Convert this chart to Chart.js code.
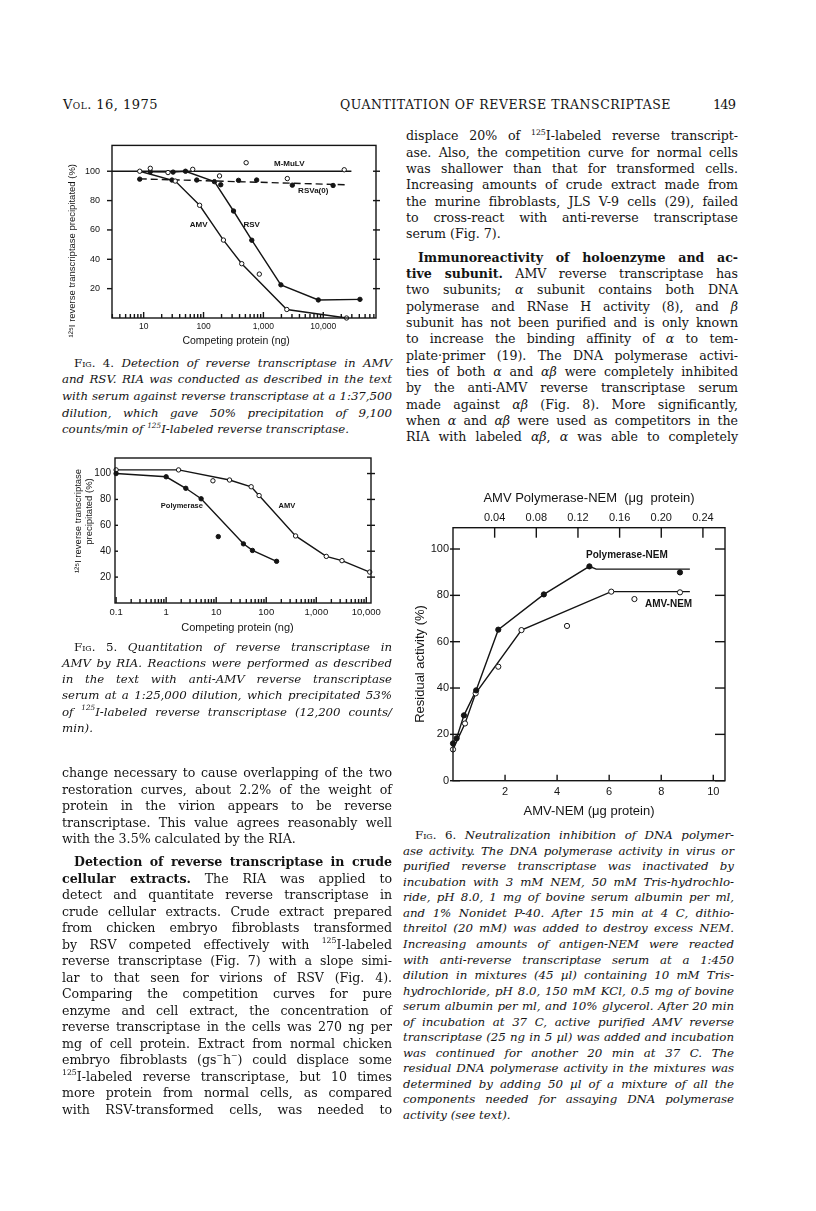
<!DOCTYPE html>
<html>
<head>
<meta charset="utf-8">
<script src="https://cdn.jsdelivr.net/npm/chart.js@4.4.1/dist/chart.umd.min.js"></script>
<style>
    html, body { margin: 0; padding: 0; background: #fff; }
    body { width: 816px; height: 1211px; position: relative; overflow: hidden; color: #141414; }
    canvas { position: absolute; }
    .ln { position: absolute; box-sizing: border-box; font-family: 'DejaVu Serif', serif;
          text-align: justify; text-align-last: justify; }
    .ln.end { text-align-last: left; }
    .cap { font-style: italic; }
    .up { font-style: normal; font-variant: small-caps; }
    sup { font-size: 0.62em; line-height: 0; position: relative; top: -0.1em; vertical-align: super; }
</style>
</head>
<body>
<canvas id="fig4" width="330" height="222" style="left:60px;top:128px"></canvas>
<canvas id="fig5" width="330" height="200" style="left:60px;top:448px"></canvas>
<canvas id="fig6" width="340" height="335" style="left:400px;top:488px"></canvas>

<script>
// ---- Fig. 4: detection of reverse transcriptase in AMV and RSV ----
const fig4XTicks = [10, 100, 1000, 10000];
const fig4YTicks = [20, 40, 60, 80, 100];
const fig4AmvNg = [8.6, 33.7, 86, 215, 435, 2460, 24500];
const fig4AmvPct = [100, 93.3, 76.8, 53.1, 37.0, 5.8, 0];
const fig4AmvOffNg = [855];
const fig4AmvOffPct = [29.9];
const fig4RsvNg = [12.9, 31, 50, 152, 317, 640, 1960, 8270, 41000];
const fig4RsvPct = [99.6, 99.4, 100, 92.9, 72.9, 53.0, 22.6, 12.3, 12.7];
const fig4MulvNg = [12.9, 25.5, 66, 185, 515, 2510, 22400];
const fig4MulvPct = [102, 99.1, 101.3, 96.8, 105.8, 95.0, 101];
const fig4MulvLineNg = [2.96, 29500];
const fig4MulvLinePct = [100, 100];
const fig4RsvaNg = [8.6, 29.7, 77, 194, 384, 772, 3040, 14600];
const fig4RsvaPct = [94.6, 94.0, 94.0, 90.8, 93.8, 94.0, 90.5, 90.3];
const fig4RsvaLineNg = [8.6, 23000];
const fig4RsvaLinePct = [94.8, 90.8];

// ---- Fig. 5: quantitation of reverse transcriptase in AMV ----
const fig5XTicks = [0.1, 1, 10, 100, 1000, 10000];
const fig5YTicks = [20, 40, 60, 80, 100];
const fig5PolNg = [0.1, 1, 2.47, 5, 35, 53, 161];
const fig5PolPct = [100, 97.5, 88.6, 80.5, 45.7, 40.6, 32.2];
const fig5PolOffNg = [11];
const fig5PolOffPct = [51.3];
const fig5AmvNg = [0.1, 1.77, 18.5, 50, 72, 386, 1585, 3260, 11700];
const fig5AmvPct = [102.8, 102.8, 95, 89.8, 83, 51.8, 36, 32.7, 23.9];
const fig5AmvOffNg = [8.6];
const fig5AmvOffPct = [94.4];

// ---- Fig. 6: neutralization inhibition ----
const fig6XTicks = [2, 4, 6, 8, 10];
const fig6TopTicks = [0.04, 0.08, 0.12, 0.16, 0.20, 0.24];
const fig6YTicks = [0, 20, 40, 60, 80, 100];
const fig6PolX = [0, 0.14, 0.42, 0.89, 1.74, 3.49, 5.24, 8.72];
const fig6PolY = [16.1, 18.3, 28.2, 39, 65.2, 80.4, 92.5, 89.9];
const fig6PolLineX = [0, 0.14, 0.42, 0.89, 1.74, 3.49, 5.24, 5.5, 9.1];
const fig6PolLineY = [16.1, 18.3, 28.2, 39, 65.2, 80.4, 92.5, 91.3, 91.3];
const fig6AmvX = [0, 0.46, 0.87, 1.74, 2.63, 4.38, 6.08, 6.97, 8.72];
const fig6AmvY = [13.5, 24.7, 37.7, 49.2, 65, 66.8, 81.6, 78.4, 81.3];
const fig6AmvLineX = [0, 0.46, 0.87, 2.63, 6.08, 9.1];
const fig6AmvLineY = [13.5, 24.7, 37.7, 65, 81.6, 81.6];

const INK = '#141414';
const AXIS_FONT = "'Liberation Sans', Arial, sans-serif";

function pts(xs, ys) {
    return xs.map((x, i) => ({x: x, y: ys[i]}));
}

function marks(xs, ys, open, r) {
    return {
        data: pts(xs, ys), showLine: false, pointRadius: r || 2.2,
        pointBackgroundColor: open ? '#fff' : INK, pointBorderColor: INK,
        pointBorderWidth: 1, order: 1, clip: false
    };
}

function curve(xs, ys, dash) {
    return {
        data: pts(xs, ys), showLine: true, pointRadius: 0, borderColor: INK,
        borderWidth: 1.4, borderDash: dash || [], tension: 0, order: 2, clip: false
    };
}

function font(size, weight) {
    return {family: AXIS_FONT, size: size, weight: weight || 'normal', lineHeight: 1.2};
}

function fixedTicks(values) {
    return s => { s.ticks = values.map(v => ({value: v})); };
}

function fmtNum(v) {
    if (v < 1) return String(v);
    return Number(v).toLocaleString('en-US');
}

// frame, inward/outward tick marks and curve labels
const frameTicks = {
    id: 'frameTicks',
    afterDatasetsDraw(chart, args, o) {
        const {ctx, chartArea: a, scales} = chart;
        const seg = (x1, y1, x2, y2) => {
            ctx.beginPath(); ctx.moveTo(x1, y1); ctx.lineTo(x2, y2); ctx.stroke();
        };
        ctx.save();
        ctx.strokeStyle = INK;
        ctx.lineWidth = 1.4;
        ctx.strokeRect(a.left, a.top, a.right - a.left, a.bottom - a.top);

        const ys = scales.y;
        ys.ticks.forEach(t => {
            const py = ys.getPixelForValue(t.value);
            if (o.left) seg(a.left - o.left[0], py, a.left + o.left[1], py);
            if (o.right) seg(a.right - o.right[0], py, a.right + o.right[1], py);
        });

        const xs = scales.x;
        if (o.logMinor) {
            const d0 = Math.floor(Math.log10(xs.min));
            const d1 = Math.ceil(Math.log10(xs.max));
            for (let d = d0; d <= d1; d++) {
                for (let k = 1; k <= 9; k++) {
                    const v = k * Math.pow(10, d);
                    if (v < xs.min || v > xs.max) continue;
                    const px = xs.getPixelForValue(v);
                    seg(px, a.bottom, px, a.bottom - (k === 1 ? o.logMinor[1] : o.logMinor[0]));
                }
            }
        }
        if (o.bottom) {
            xs.ticks.forEach(t => {
                const px = xs.getPixelForValue(t.value);
                seg(px, a.bottom, px, a.bottom - o.bottom);
            });
        }
        if (o.top && scales.x2) {
            scales.x2.ticks.forEach(t => {
                const px = scales.x2.getPixelForValue(t.value);
                seg(px, a.top, px, a.top + o.top);
            });
        }

        ctx.fillStyle = INK;
        ctx.textAlign = 'center';
        ctx.textBaseline = 'middle';
        (o.labels || []).forEach(l => {
            ctx.font = l.font;
            ctx.fillText(l.text, xs.getPixelForValue(l.x), ys.getPixelForValue(l.y));
        });
        ctx.restore();
    }
};

function baseOptions(pad, scales, frame) {
    return {
        responsive: false,
        animation: false,
        events: [],
        layout: {padding: pad},
        plugins: {legend: {display: false}, tooltip: {enabled: false}, frameTicks: frame},
        scales: scales
    };
}

const noGrid = {display: false, drawTicks: false};
const noBorder = {display: false};
const EN = '\u2002';

// Fig. 4
new Chart(document.getElementById('fig4'), {
    type: 'scatter',
    data: {datasets: [
        marks(fig4AmvNg, fig4AmvPct, true),
        marks(fig4AmvOffNg, fig4AmvOffPct, true),
        marks(fig4MulvNg, fig4MulvPct, true),
        marks(fig4RsvNg, fig4RsvPct, false),
        marks(fig4RsvaNg, fig4RsvaPct, false),
        curve(fig4AmvNg, fig4AmvPct),
        curve(fig4RsvNg, fig4RsvPct),
        curve(fig4MulvLineNg, fig4MulvLinePct),
        curve(fig4RsvaLineNg, fig4RsvaLinePct, [7, 4])
    ]},
    options: baseOptions({left: 0, top: 7, right: 14, bottom: 0}, {
        x: {
            type: 'logarithmic', min: 2.96, max: 76000,
            afterBuildTicks: fixedTicks(fig4XTicks),
            afterFit: s => { s.height = 32; },
            grid: noGrid, border: noBorder,
            ticks: {autoSkip: false, maxRotation: 0, padding: 3.9, color: INK, font: font(8.5),
                    callback: v => fmtNum(v)},
            title: {display: true, text: 'Competing protein (ng)' + EN + EN + EN, color: INK,
                    font: font(10.5), padding: {top: 0, bottom: 2.7}}
        },
        y: {
            min: 0, max: 117.6,
            afterBuildTicks: fixedTicks(fig4YTicks),
            afterFit: s => { s.width = 52; },
            grid: noGrid, border: noBorder,
            ticks: {padding: 12, color: INK, font: font(9)},
            title: {display: true, text: '\u00b9\u00b2\u2075I reverse transcriptase precipitated (%)' + EN.repeat(8),
                    color: INK, font: font(9.5), padding: {top: 6.3, bottom: 0}}
        }
    }, {
        left: [5, 0], right: [3, 4], logMinor: [4, 6],
        labels: [
            {text: 'M-MuLV', x: 2700, y: 105, font: "bold 8px 'Liberation Sans', Arial"},
            {text: 'RSVa(0)', x: 6800, y: 86.5, font: "bold 8px 'Liberation Sans', Arial"},
            {text: 'AMV', x: 83, y: 63.2, font: "bold 8px 'Liberation Sans', Arial"},
            {text: 'RSV', x: 637, y: 63.2, font: "bold 8px 'Liberation Sans', Arial"}
        ]
    }),
    plugins: [frameTicks]
});

// Fig. 5
new Chart(document.getElementById('fig5'), {
    type: 'scatter',
    data: {datasets: [
        marks(fig5PolNg, fig5PolPct, false),
        marks(fig5PolOffNg, fig5PolOffPct, false),
        marks(fig5AmvNg, fig5AmvPct, true),
        marks(fig5AmvOffNg, fig5AmvOffPct, true),
        curve(fig5PolNg, fig5PolPct),
        curve(fig5AmvNg, fig5AmvPct)
    ]},
    options: baseOptions({left: 0, top: 7, right: 19, bottom: 0}, {
        x: {
            type: 'logarithmic', min: 0.095, max: 12400,
            afterBuildTicks: fixedTicks(fig5XTicks),
            afterFit: s => { s.height = 45; },
            grid: noGrid, border: noBorder,
            ticks: {autoSkip: false, maxRotation: 0, padding: 4, color: INK, font: font(9.5),
                    callback: v => fmtNum(v)},
            title: {display: true, text: 'Competing protein (ng)' + EN + EN, color: INK,
                    font: font(11), padding: {top: 0, bottom: 13.1}}
        },
        y: {
            min: 0, max: 112,
            afterBuildTicks: fixedTicks(fig5YTicks),
            afterFit: s => { s.width = 55; },
            grid: noGrid, border: noBorder,
            ticks: {padding: 4, color: INK, font: font(10)},
            title: {display: true,
                    text: [EN.repeat(4) + '\u00b9\u00b2\u2075I reverse transcriptase', EN.repeat(8) + 'precipitated (%)'],
                    color: INK, font: font(9.5), padding: {top: 12.3, bottom: 0}}
        }
    }, {
        left: [0, 3], right: [4, 4], logMinor: [4, 6],
        labels: [
            {text: 'Polymerase', x: 2.06, y: 74.6, font: "bold 7.5px 'Liberation Sans', Arial"},
            {text: 'AMV', x: 258, y: 74.6, font: "bold 7.5px 'Liberation Sans', Arial"}
        ]
    }),
    plugins: [frameTicks]
});

// Fig. 6
new Chart(document.getElementById('fig6'), {
    type: 'scatter',
    data: {datasets: [
        marks(fig6PolX, fig6PolY, false, 2.6),
        marks(fig6AmvX, fig6AmvY, true, 2.6),
        curve(fig6PolLineX, fig6PolLineY),
        curve(fig6AmvLineX, fig6AmvLineY)
    ]},
    options: baseOptions({left: 0, top: 0, right: 15, bottom: 0}, {
        x: {
            min: 0, max: 10.45,
            afterBuildTicks: fixedTicks(fig6XTicks),
            afterFit: s => { s.height = 42.3; },
            grid: noGrid, border: noBorder,
            ticks: {autoSkip: false, maxRotation: 0, padding: 4.4, color: INK, font: font(11)},
            title: {display: true, text: 'AMV-NEM (\u03bcg protein)', color: INK,
                    font: font(13), padding: {top: 0, bottom: 3.5}}
        },
        x2: {
            type: 'linear', position: 'top', display: true, min: 0, max: 0.2612,
            afterBuildTicks: fixedTicks(fig6TopTicks),
            afterFit: s => { s.height = 39.7; },
            grid: noGrid, border: noBorder,
            ticks: {autoSkip: false, maxRotation: 0, padding: 3.1, color: INK, font: font(11),
                    callback: v => v.toFixed(2)},
            title: {display: true, text: 'AMV Polymerase-NEM  (\u03bcg  protein)', color: INK,
                    font: font(13), padding: {top: 2.2, bottom: 0}}
        },
        y: {
            min: 0, max: 109.2,
            afterBuildTicks: fixedTicks(fig6YTicks),
            afterFit: s => { s.width = 53; },
            grid: noGrid, border: noBorder,
            ticks: {padding: 4, color: INK, font: font(11)},
            title: {display: true, text: 'Residual activity (%)' + EN.repeat(3), color: INK,
                    font: font(13), padding: {top: 12.9, bottom: 0}}
        }
    }, {
        left: [3, 7], right: [10, 0], bottom: 6, top: 10,
        labels: [
            {text: 'Polymerase-NEM', x: 6.68, y: 97.1, font: "bold 10px 'Liberation Sans', Arial"},
            {text: 'AMV-NEM', x: 8.28, y: 76.3, font: "bold 10px 'Liberation Sans', Arial"}
        ]
    }),
    plugins: [frameTicks]
});

// ---- page text ----
const L = t => ({t: t});
const I = t => ({t: t, indent: true});
const E = t => ({t: t, end: true});
const G = (t, gap) => ({t: t, indent: true, gap: gap});
const SUP = '<sup>125</sup>I';

const textBlocks = [
    {x: 63, w: 95, y: 109, pitch: 16, size: 13, fit: true, lines: [E('<span class="up">Vol.</span> 16, 1975')]},
    {x: 340, w: 331, y: 109, pitch: 16, size: 12.5, fit: true, lines: [E('QUANTITATION OF REVERSE TRANSCRIPTASE')]},
    {x: 713, w: 22, y: 109, pitch: 16, size: 13, fit: true, lines: [E('149')]},

    {x: 62, w: 330, y: 367, pitch: 16.7, size: 11.8, cls: 'cap', ind: 12, lines: [
        I('<span class="up">Fig. 4.</span> Detection of reverse transcriptase in AMV'),
        L('and RSV. RIA was conducted as described in the text'),
        L('with serum against reverse transcriptase at a 1:37,500'),
        L('dilution, which gave 50% precipitation of 9,100'),
        E('counts/min of ' + SUP + '-labeled reverse transcriptase.')
    ]},
    {x: 62, w: 330, y: 651, pitch: 16.2, size: 11.8, cls: 'cap', ind: 12, lines: [
        I('<span class="up">Fig. 5.</span> Quantitation of reverse transcriptase in'),
        L('AMV by RIA. Reactions were performed as described'),
        L('in the text with anti-AMV reverse transcriptase'),
        L('serum at a 1:25,000 dilution, which precipitated 53%'),
        L('of ' + SUP + '-labeled reverse transcriptase (12,200 counts/'),
        E('min).')
    ]},
    {x: 62, w: 330, y: 778, pitch: 16.5, size: 12.6, ind: 12, lines: [
        L('change necessary to cause overlapping of the two'),
        L('restoration curves, about 2.2% of the weight of'),
        L('protein in the virion appears to be reverse'),
        L('transcriptase. This value agrees reasonably well'),
        E('with the 3.5% calculated by the RIA.'),
        G('<b>Detection of reverse transcriptase in crude</b>', 6.5),
        L('<b>cellular extracts.</b> The RIA was applied to'),
        L('detect and quantitate reverse transcriptase in'),
        L('crude cellular extracts. Crude extract prepared'),
        L('from chicken embryo fibroblasts transformed'),
        L('by RSV competed effectively with ' + SUP + '-labeled'),
        L('reverse transcriptase (Fig. 7) with a slope simi-'),
        L('lar to that seen for virions of RSV (Fig. 4).'),
        L('Comparing the competition curves for pure'),
        L('enzyme and cell extract, the concentration of'),
        L('reverse transcriptase in the cells was 270 ng per'),
        L('mg of cell protein. Extract from normal chicken'),
        L('embryo fibroblasts (gs<sup>\u2212</sup>h<sup>\u2212</sup>) could displace some'),
        L(SUP + '-labeled reverse transcriptase, but 10 times'),
        L('more protein from normal cells, as compared'),
        L('with RSV-transformed cells, was needed to')
    ]},
    {x: 406, w: 332, y: 141, pitch: 16.33, size: 12.6, ind: 12, lines: [
        L('displace 20% of ' + SUP + '-labeled reverse transcript-'),
        L('ase. Also, the competition curve for normal cells'),
        L('was shallower than that for transformed cells.'),
        L('Increasing amounts of crude extract made from'),
        L('the murine fibroblasts, JLS V-9 cells (29), failed'),
        L('to cross-react with anti-reverse transcriptase'),
        E('serum (Fig. 7).'),
        G('<b>Immunoreactivity of holoenzyme and ac-</b>', 7),
        L('<b>tive subunit.</b> AMV reverse transcriptase has'),
        L('two subunits; <i>\u03b1</i> subunit contains both DNA'),
        L('polymerase and RNase H activity (8), and <i>\u03b2</i>'),
        L('subunit has not been purified and is only known'),
        L('to increase the binding affinity of <i>\u03b1</i> to tem-'),
        L('plate\u00b7primer (19). The DNA polymerase activi-'),
        L('ties of both <i>\u03b1</i> and <i>\u03b1\u03b2</i> were completely inhibited'),
        L('by the anti-AMV reverse transcriptase serum'),
        L('made against <i>\u03b1\u03b2</i> (Fig. 8). More significantly,'),
        L('when <i>\u03b1</i> and <i>\u03b1\u03b2</i> were used as competitors in the'),
        L('RIA with labeled <i>\u03b1\u03b2</i>, <i>\u03b1</i> was able to completely')
    ]},
    {x: 403, w: 331, y: 840, pitch: 15.55, size: 11.8, cls: 'cap', ind: 12, lines: [
        I('<span class="up">Fig. 6.</span> Neutralization inhibition of DNA polymer-'),
        L('ase activity. The DNA polymerase activity in virus or'),
        L('purified reverse transcriptase was inactivated by'),
        L('incubation with 3 mM NEM, 50 mM Tris-hydrochlo-'),
        L('ride, pH 8.0, 1 mg of bovine serum albumin per ml,'),
        L('and 1% Nonidet P-40. After 15 min at 4 C, dithio-'),
        L('threitol (20 mM) was added to destroy excess NEM.'),
        L('Increasing amounts of antigen-NEM were reacted'),
        L('with anti-reverse transcriptase serum at a 1:450'),
        L('dilution in mixtures (45 \u00b5l) containing 10 mM Tris-'),
        L('hydrochloride, pH 8.0, 150 mM KCl, 0.5 mg of bovine'),
        L('serum albumin per ml, and 10% glycerol. After 20 min'),
        L('of incubation at 37 C, active purified AMV reverse'),
        L('transcriptase (25 ng in 5 \u00b5l) was added and incubation'),
        L('was continued for another 20 min at 37 C. The'),
        L('residual DNA polymerase activity in the mixtures was'),
        L('determined by adding 50 \u00b5l of a mixture of all the'),
        L('components needed for assaying DNA polymerase'),
        E('activity (see text).')
    ]}
];

textBlocks.forEach(b => {
    let base = b.y;
    b.lines.forEach((ln, i) => {
        if (i > 0) base += b.pitch + (ln.gap || 0);
        const d = document.createElement('div');
        d.className = 'ln' + (b.cls ? ' ' + b.cls : '') + (ln.end ? ' end' : '');
        const indent = ln.indent ? (b.ind || 12) : 0;
        d.style.left = b.x + 'px';
        d.style.width = b.w + 'px';
        d.style.paddingLeft = indent + 'px';
        d.style.fontSize = b.size + 'px';
        d.style.lineHeight = b.pitch + 'px';
        // DejaVu Serif ascent 0.928em, descent 0.236em
        const baseOff = (b.pitch - 1.164 * b.size) / 2 + 0.928 * b.size;
        d.style.top = (base - baseOff) + 'px';
        d.innerHTML = '<span>' + ln.t + '</span>';
        document.body.appendChild(d);

        // squeeze lines wider than the column; 'fit' lines are stretched or squeezed to width
        d.style.whiteSpace = 'nowrap';
        const natural = d.firstChild.getBoundingClientRect().width;
        const avail = b.w - indent;
        const n = d.textContent.length;
        if (b.fit) {
            d.style.letterSpacing = ((avail - natural) / n) + 'px';
        } else if (natural > avail - 0.5) {
            d.style.letterSpacing = ((avail - natural - 1.5) / n) + 'px';
        }
        d.style.whiteSpace = '';
    });
});
</script>
</body>
</html>
